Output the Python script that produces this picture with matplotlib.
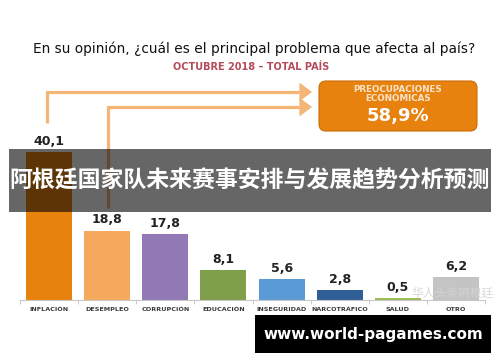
import matplotlib
matplotlib.use("Agg")
import matplotlib.pyplot as plt
from matplotlib.patches import FancyBboxPatch, FancyArrowPatch, Rectangle
from matplotlib.path import Path

# data
categories = ["INFLACIÓN", "DESEMPLEO", "CORRUPCIÓN", "EDUCACIÓN",
              "INSEGURIDAD", "NARCOTRÁFICO", "SALUD", "OTRO"]
values = [40.1, 18.8, 17.8, 8.1, 5.6, 2.8, 0.5, 6.2]
value_labels = ["40,1", "18,8", "17,8", "8,1", "5,6", "2,8", "0,5", "6,2"]
colors = ["#e8820f", "#f6a95c", "#9079b4", "#7f9f4a",
          "#5b9bd5", "#2f5f96", "#9bbb59", "#c4c4c4"]

title = "En su opinión, ¿cuál es el principal problema que afecta al país?"
subtitle = "OCTUBRE 2018 – TOTAL PAÍS"
box_label = "PREOCUPACIONES\nECONÓMICAS"
box_value = "58,9%"
banner = "阿根廷国家队未来赛事安排与发展趋势分析预测"
site = "www.world-pagames.com"
watermark = "华人头条阿根廷"

W, H = 500, 362
fig = plt.figure(figsize=(W / 100, H / 100), dpi=100)
fig.patch.set_facecolor("white")

# bar chart
ax = fig.add_axes([20 / W, 62 / H, 465 / W, 166 / H])
x = range(len(categories))
ax.bar(x, values, width=0.79, color=colors, zorder=2)
ax.set_xlim(-0.5, len(categories) - 0.5)
ax.set_ylim(0, 45)
for i, (v, lbl) in enumerate(zip(values, value_labels)):
    ax.annotate(lbl, (i, v), xytext=(0, 3), textcoords="offset points",
                ha="center", va="bottom", fontsize=9, fontweight="bold",
                color="#222222")
ax.set_xticks(list(x))
ax.set_xticklabels(categories, fontsize=4.6, fontweight="bold", color="#3a3a3a")
ax.tick_params(axis="x", which="major", length=0, pad=5)
ax.set_xticks([i - 0.5 for i in range(len(categories) + 1)], minor=True)
ax.tick_params(axis="x", which="minor", length=3, color="#bfbfbf")
ax.set_yticks([])
for s in ["top", "right", "left"]:
    ax.spines[s].set_visible(False)
ax.spines["bottom"].set_color("#c8c8c8")
ax.patch.set_alpha(0)

# overlay in pixel coordinates
ov = fig.add_axes([0, 0, 1, 1])
ov.set_xlim(0, W)
ov.set_ylim(H, 0)
ov.axis("off")
ov.patch.set_alpha(0)

ov.text(254, 49, title, ha="center", va="center", fontsize=9.9, color="#111111")
ov.text(251, 67, subtitle, ha="center", va="center", fontsize=7,
        fontweight="bold", color="#b54a5a")

arrow_col = "#f4b677"
for pts in [[(47, 123), (47, 92), (312, 92)], [(108, 208), (108, 107), (312, 107)]]:
    path = Path(pts, [Path.MOVETO, Path.LINETO, Path.LINETO])
    ov.add_patch(FancyArrowPatch(path=path, arrowstyle="-|>,head_length=0.6,head_width=0.45",
                                 mutation_scale=10, color=arrow_col, lw=2.3,
                                 joinstyle="miter", capstyle="butt"))

ov.add_patch(FancyBboxPatch((319, 81), 158, 50, boxstyle="round,pad=0,rounding_size=7",
                            facecolor="#e8820f", edgecolor="#c96d08", lw=0.8))
ov.text(398, 94, box_label, ha="center", va="center", fontsize=6.3,
        fontweight="bold", color="#fbe3c8", linespacing=0.95)
ov.text(398, 116, box_value, ha="center", va="center", fontsize=13,
        fontweight="bold", color="white")

ov.text(453, 293, watermark, ha="center", va="center", fontsize=8.5,
        family=["Noto Sans CJK SC", "DejaVu Sans"], color="#d4d4d4", alpha=0.9)

ov.add_patch(Rectangle((9, 149), 482, 63, facecolor="black", alpha=0.6, lw=0))
ov.text(250, 181, banner, ha="center", va="center", fontsize=16.5,
        fontweight="bold", family=["Noto Sans CJK SC", "DejaVu Sans"], color="white")

ov.add_patch(Rectangle((255, 315), 236, 38, facecolor="black", lw=0))
ov.text(373, 334, site, ha="center", va="center", fontsize=11,
        fontweight="bold", color="white")

fig.savefig("out.png", dpi=100)
